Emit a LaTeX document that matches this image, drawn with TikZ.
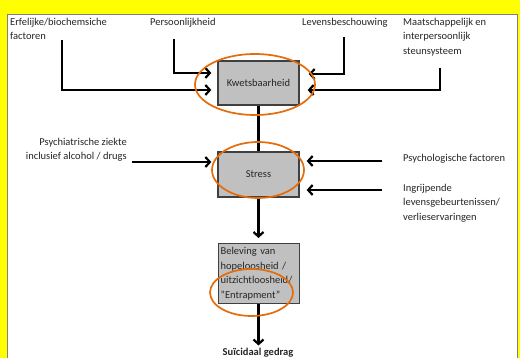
\documentclass[tikz,border=0pt]{standalone}
\usepackage{fontspec}
\setmainfont{Carlito}
\usetikzlibrary{arrows.meta,calc}
\definecolor{bgyellow}{HTML}{FFFF00}
\definecolor{boxgray}{HTML}{C0C0C0}
\definecolor{boxline}{HTML}{404040}
\definecolor{ringorange}{HTML}{E46C0A}
\definecolor{txt}{HTML}{262626}
\begin{document}
\begin{tikzpicture}[x=1pt,y=-1pt,
  lbl/.style={font=\fontsize{10.5}{14.5}\selectfont,text=txt,inner sep=0pt,align=left},
  gbox/.style={draw=boxline,line width=1.3pt,fill=boxgray,font=\fontsize{10.5}{14.5}\selectfont,text=txt,inner sep=2pt},
  arr/.style={line width=2.2pt,-{Straight Barb[length=4.5pt,width=10pt]}},
  plain/.style={line width=2.2pt},
  ring/.style={draw=ringorange,line width=1.7pt}]
\useasboundingbox (0,0) rectangle (520,358);
\begin{scope}
\clip (0,0) rectangle (520,358);
\fill[bgyellow] (0,0) rectangle (520,358);
\filldraw[fill=white,draw=gray,line width=0.8pt] (7.5,14) rectangle (517.5,370);

% boxes
\node[gbox,minimum width=81pt,minimum height=44pt] (kw) at (258.5,83) {Kwetsbaarheid};
\node[gbox,minimum width=81pt,minimum height=45pt] (st) at (258.5,174.5) {Stress};
\node[gbox,anchor=north west,text width=77pt,minimum height=60pt,align=left] (bel) at (218,243)
  {Beleving van\\hopeloosheid /\\uitzichtloosheid/\\"Entrapment"};
\node[lbl,anchor=north,font=\fontsize{10.5}{14.5}\selectfont\bfseries] (sui) at (258,347.5) {Suïcidaal gedrag};

% labels
\node[lbl,anchor=north west] (erf) at (10,18) {Erfelijke/biochemsiche\\factoren};
\node[lbl,anchor=north west] (pers) at (150,18) {Persoonlijkheid};
\node[lbl,anchor=north west] (lev) at (302,18) {Levensbeschouwing};
\node[lbl,anchor=north west] (maat) at (403,18) {Maatschappelijk en\\interpersoonlijk\\steunsysteem};
\node[lbl,anchor=north east,align=right] (psy) at (127,138) {Psychiatrische ziekte\\inclusief alcohol / drugs};
\node[lbl,anchor=north west] (psl) at (403,154) {Psychologische factoren};
\node[lbl,anchor=north west] (ingr) at (403,184) {Ingrijpende\\levensgebeurtenissen/\\verlieservaringen};

% start points of connectors
\coordinate (erfS) at (62,40);
\coordinate (persS) at (174,39);
\coordinate (levS) at (344,37);
\coordinate (maatS) at (440,68);
\coordinate (psyS) at (132,162);
\coordinate (pslS) at (382,161);
\coordinate (ingrS) at (382,190);

% connectors
\draw[arr,shorten >=6pt] (erfS) |- ([yshift=-7pt]kw.west);
\draw[arr,shorten >=6pt] (persS) |- ([yshift=10pt]kw.west);
\draw[arr,shorten >=9pt] (levS) |- ([yshift=9pt]kw.east);
\draw[arr,shorten >=8pt] (maatS) |- ([yshift=-7pt]kw.east);
\draw[plain] (kw.south) -- (st.north);
\draw[arr,shorten >=6pt] (psyS) -- (psyS -| st.west);
\draw[arr,shorten >=7pt] (pslS) -- (pslS -| st.east);
\draw[arr,shorten >=7pt] (ingrS) -- (ingrS -| st.east);
\draw[arr,shorten >=5pt] (st.south) -- (bel.north -| st.south);
\draw[arr,shorten >=2pt] (bel.south -| st.south) -- (sui.north -| st.south);

% orange rings
\draw[ring] (255,84.5) ellipse [x radius=60, y radius=30.5];
\draw[ring] (258,170) ellipse [x radius=46, y radius=28];
\draw[ring] (251.5,292.5) ellipse [x radius=41.5, y radius=23.5];
\end{scope}
\end{tikzpicture}
\end{document}
